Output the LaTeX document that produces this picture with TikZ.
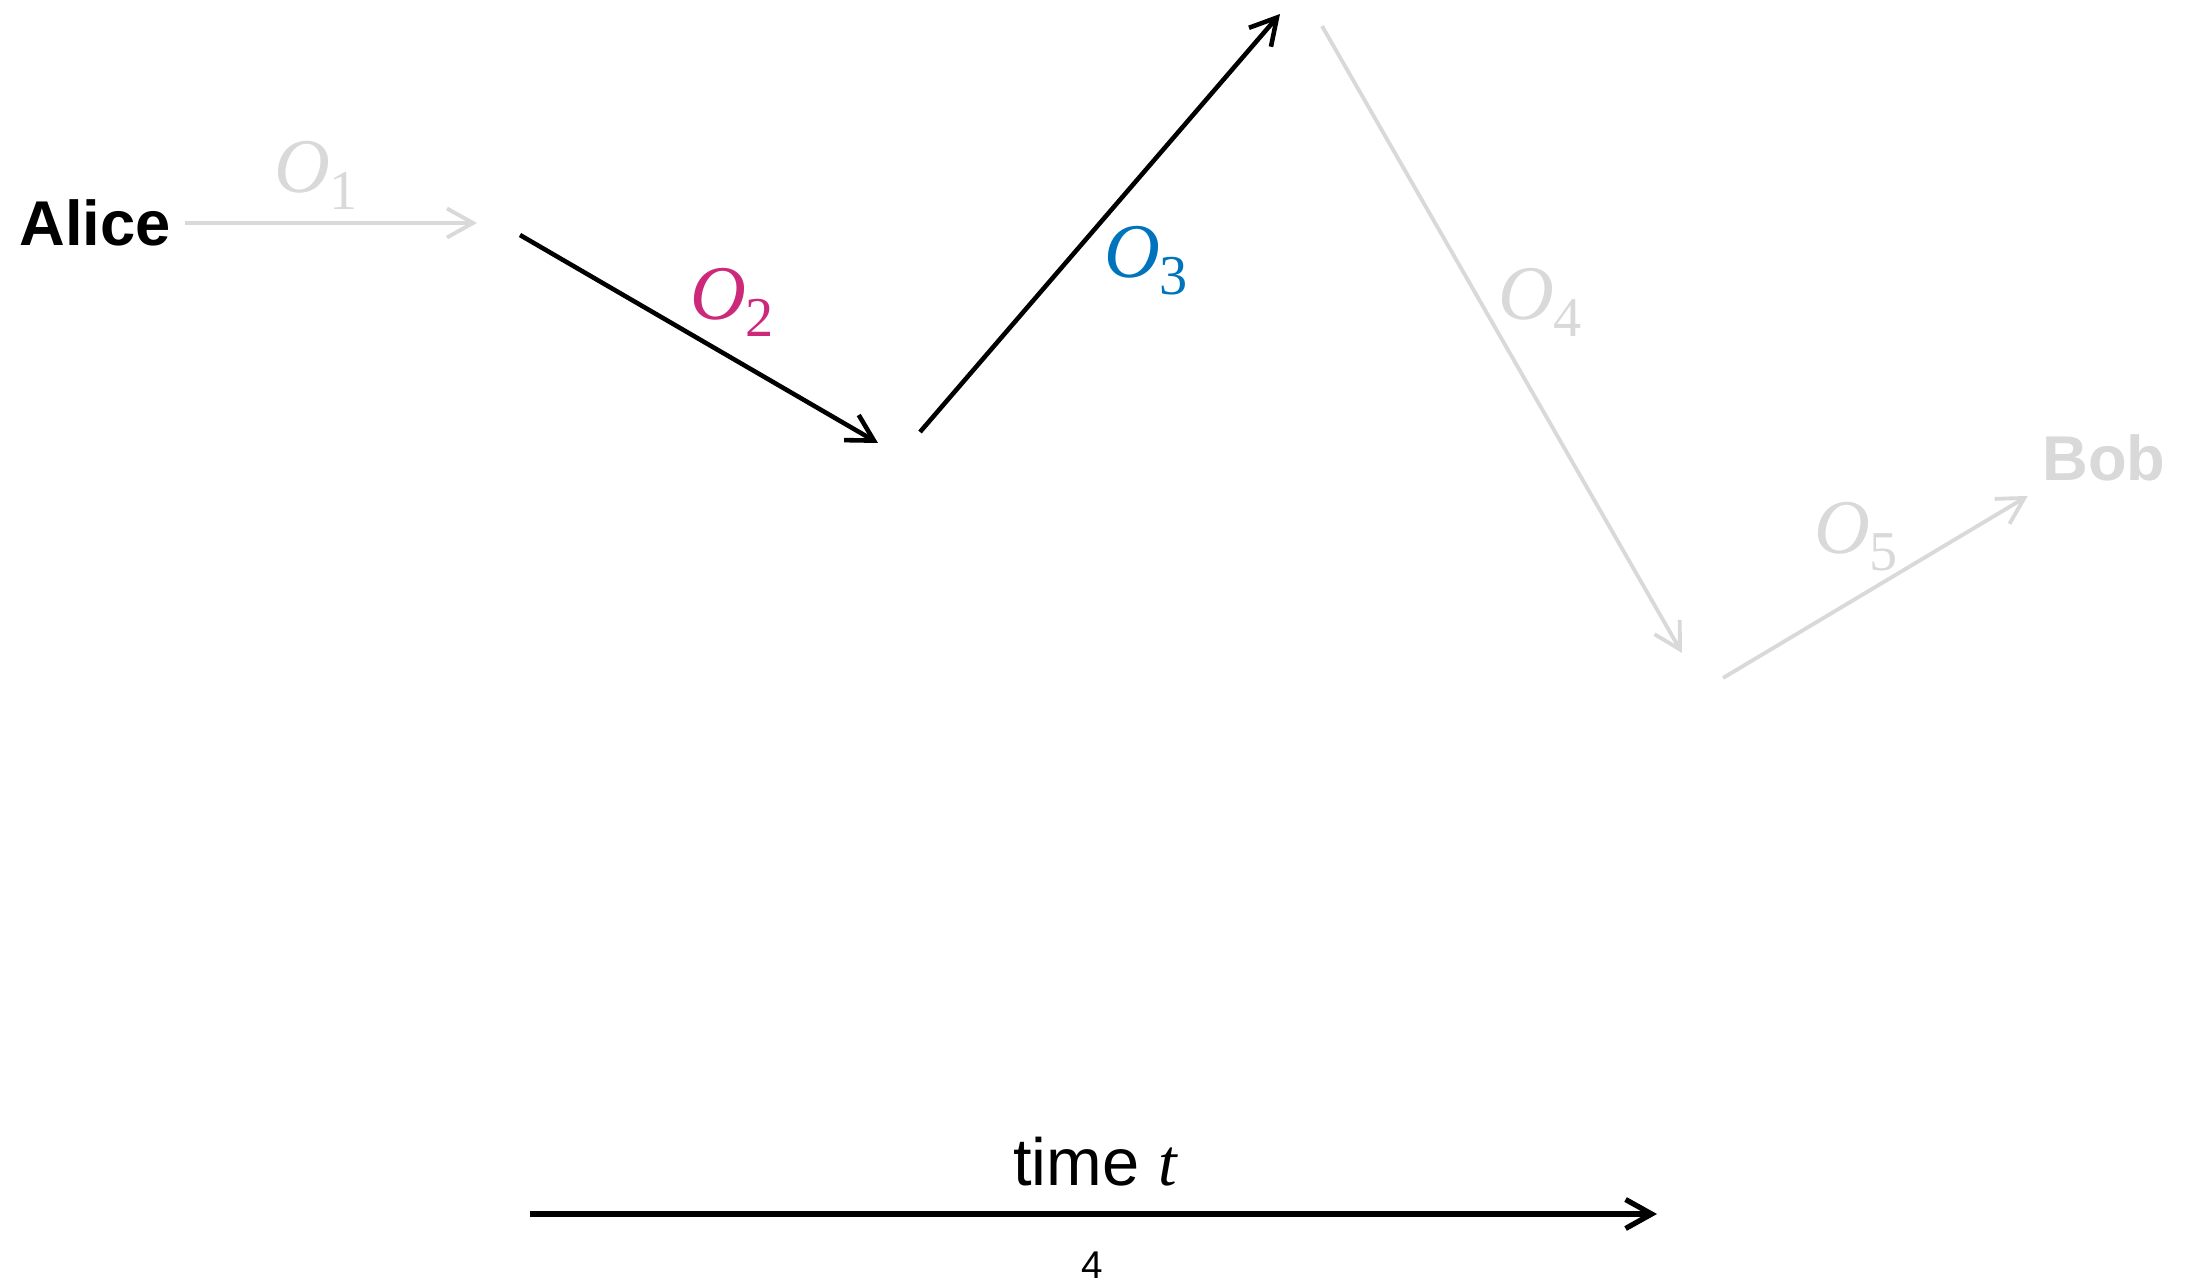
\documentclass[tikz,border=0pt]{standalone}
\usepackage{fontspec}
\setmainfont{Liberation Sans}
\newfontfamily\serifit{Liberation Serif}
\usetikzlibrary{arrows.meta}

\definecolor{faded}{RGB}{217,217,217}
\definecolor{opmagenta}{RGB}{204,41,122}
\definecolor{opblue}{RGB}{0,115,189}

% operation symbol O_k
\newcommand{\opsym}[1]{{\serifit\itshape O}\raisebox{-0.22em}{\serifit\fontsize{16}{16}\selectfont #1}}

\begin{document}
\begin{tikzpicture}[x=0.01cm, y=-0.01cm,
    >={Straight Barb[length=2.6mm, width=2.9mm]},
    person/.style={font=\fontsize{18}{20}\selectfont\bfseries, inner sep=1.4mm},
    oplabel/.style={font=\fontsize{22}{24}\selectfont, inner sep=0pt},
    active/.style={line width=1.3pt, ->},
    inactive/.style={line width=1.1pt, faded, ->}]
                \useasboundingbox (0,0) rectangle (2187,1285);

                % Alice y Bob
                \node[person] (alice) at (95,223) {Alice};
                \node[person, text=faded] (bob) at (2104,458) {Bob};

                % Extremos de las operaciones
                \coordinate (e1) at (477,223);
                \coordinate (s2) at (520,235);
                \coordinate (e2) at (878,443);
                \coordinate (s3) at (920,432);
                \coordinate (e3) at (1280,14);
                \coordinate (s4) at (1322,26);
                \coordinate (e4) at (1682,653);
                \coordinate (s5) at (1723,678);

                % Operaciones
                \draw[inactive] (alice) -- (e1);
                \draw[active] (s2) -- (e2);
                \draw[active] (s3) -- (e3);
                \draw[inactive] (s4) -- (e4);
                \draw[inactive] (s5) -- (bob.south west);

                % Etiquetas
                \node[oplabel, text=faded] (o1) at (316,175) {\opsym{1}};
                \node[oplabel, text=opmagenta] (o2) at (732,302) {\opsym{2}};
                \node[oplabel, text=opblue] (o3) at (1146,261) {\opsym{3}};
                \node[oplabel, text=faded] (o4) at (1540,302) {\opsym{4}};
                \node[oplabel, text=faded] (o5) at (1856,537) {\opsym{5}};

                % Eje del tiempo
                \coordinate (t0) at (530,1214);
                \coordinate (t1) at (1657,1214);
                \draw[line width=1.5pt, ->] (t0) -- (t1);
                \node[font=\fontsize{19}{21}\selectfont, inner sep=0pt] (tlabel) at (1095,1162) {time {\serifit\itshape t}};
                \node[font=\fontsize{11}{13}\selectfont, inner sep=0pt] (pagenum) at (1092,1265) {4};
\end{tikzpicture}
\end{document}
